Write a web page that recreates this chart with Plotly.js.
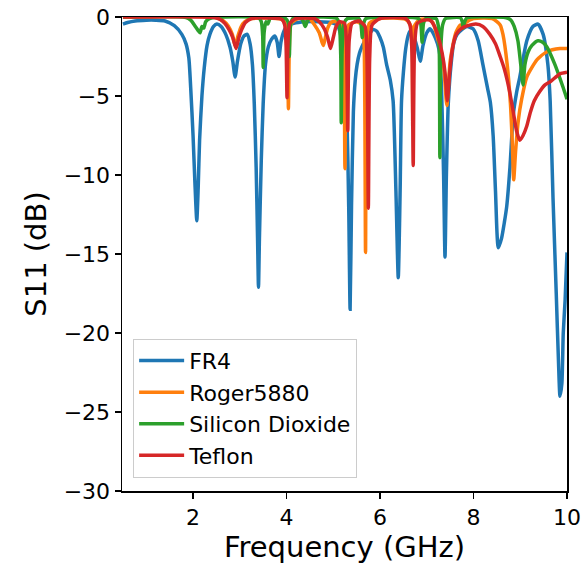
<!DOCTYPE html>
<html>
<head>
<meta charset="utf-8">
<script src="https://cdn.plot.ly/plotly-3.0.1.min.js"></script>
<style>html,body{margin:0;padding:0;background:#fff;}#chart{width:586px;height:573px;}</style>
</head>
<body>
<div id="chart"></div>
<script>
// FR4
const fr4_freq = [0.5,0.6,0.76,1.0,1.2,1.4,1.6,1.76,1.85,1.91,1.95,2.0,2.04,2.08,2.11,2.14,2.19,2.24,2.30,2.36,2.44,2.51,2.60,2.70,2.79,2.85,2.90,2.95,3.02,3.09,3.16,3.22,3.27,3.31,3.35,3.38,3.40,3.42,3.46,3.50,3.55,3.61,3.68,3.75,3.80,3.84,3.88,3.93,4.0,4.15,4.4,4.7,4.95,5.08,5.14,5.20,5.25,5.29,5.33,5.36,5.39,5.43,5.47,5.51,5.56,5.61,5.68,5.75,5.85,5.93,6.00,6.07,6.14,6.22,6.28,6.34,6.39,6.43,6.46,6.50,6.55,6.60,6.64,6.72,6.80,6.86,6.92,7.00,7.07,7.15,7.23,7.28,7.32,7.36,7.39,7.42,7.46,7.52,7.58,7.65,7.75,7.86,7.99,8.10,8.20,8.30,8.36,8.42,8.47,8.53,8.60,8.66,8.71,8.78,8.85,8.92,8.99,9.07,9.14,9.27,9.38,9.49,9.59,9.64,9.70,9.77,9.82,9.85,9.89,9.92,9.96,10.0];
const fr4_s11 = [-0.45,-0.35,-0.25,-0.2,-0.2,-0.25,-0.55,-1.1,-1.7,-2.6,-4.5,-7.5,-10.5,-12.9,-10.8,-7.8,-5.0,-3.2,-1.8,-1.1,-0.6,-0.45,-0.6,-1.1,-1.9,-2.8,-3.8,-2.8,-1.7,-1.2,-1.1,-1.7,-3.0,-5.5,-9.5,-14,-17.1,-14,-9,-5.5,-3.0,-1.9,-1.4,-1.2,-1.6,-2.5,-1.6,-1.0,-0.6,-0.4,-0.3,-0.3,-0.35,-0.5,-0.9,-1.9,-3.5,-6.0,-12,-18.5,-12,-6.0,-4.0,-3.0,-2.3,-1.9,-1.5,-1.2,-0.8,-0.9,-1.3,-1.9,-3.0,-4.0,-5.3,-11,-16.5,-11,-5.3,-3.5,-2.0,-1.2,-0.9,-1.2,-2.0,-2.8,-1.8,-1.0,-0.75,-1.1,-1.7,-2.4,-5.0,-10,-15.2,-10,-5.5,-3.0,-1.6,-1.1,-0.8,-0.6,-0.75,-1.5,-3.0,-4.5,-5.4,-7.5,-11,-14.6,-14.0,-13.0,-12.0,-9.5,-6.2,-4.8,-3.8,-2.5,-1.5,-0.6,-0.45,-1.1,-3.0,-5.3,-11.4,-17.5,-22,-24.0,-23.2,-20,-17.9,-14.9];

// Roger5880
const roger_freq = [0.5,2.5,2.65,2.75,2.84,2.90,2.96,3.03,3.11,3.25,3.9,3.98,4.02,4.04,4.06,4.10,4.25,4.50,4.60,4.70,4.76,4.79,4.83,4.88,4.95,5.05,5.18,5.22,5.25,5.28,5.33,5.5,5.62,5.66,5.69,5.72,5.77,6.0,6.55,6.66,6.70,6.73,6.85,7.05,7.13,7.22,7.35,7.43,7.50,7.62,7.72,7.78,7.84,8.0,8.4,8.57,8.63,8.72,8.79,8.83,8.86,8.90,8.96,9.03,9.14,9.36,9.57,9.85,10.0];
const roger_s11 = [-0.02,-0.03,-0.25,-0.55,-1.1,-1.8,-1.2,-0.6,-0.3,-0.1,-0.15,-0.5,-2.0,-5.8,-2.0,-0.4,-0.1,-0.15,-0.5,-1.0,-1.6,-1.8,-1.3,-0.7,-0.35,-0.3,-0.5,-1.5,-9.6,-1.5,-0.5,-0.3,-0.5,-1.8,-14.9,-1.8,-0.4,-0.1,-0.15,-0.6,-7,-0.6,-0.15,-0.15,-0.35,-1.2,-2.8,-5.6,-2.8,-1.0,-0.5,-0.7,-0.35,-0.1,-0.1,-0.5,-1.1,-3.0,-5.5,-8.0,-10.3,-8.5,-6.5,-5.2,-3.8,-2.7,-2.2,-2.0,-2.0];

// Silicon Dioxide
const sio2_freq = [0.5,1.85,1.95,2.05,2.12,2.15,2.19,2.23,2.27,2.35,2.5,3.40,3.46,3.49,3.50,3.52,3.56,3.60,3.65,3.98,4.04,4.06,4.09,4.15,4.30,4.36,4.40,4.44,4.5,5.08,5.13,5.16,5.17,5.19,5.23,5.30,5.55,5.59,5.62,5.65,5.70,6.82,6.87,6.90,6.93,6.98,7.20,7.25,7.27,7.28,7.30,7.34,7.40,7.72,7.76,7.78,7.81,7.86,8.70,8.80,8.87,8.95,9.01,9.06,9.10,9.17,9.25,9.38,9.48,9.57,9.74,9.91,10.0];
const sio2_s11 = [0,-0.03,-0.2,-0.6,-0.9,-1.0,-0.6,-0.7,-0.3,-0.1,-0.02,-0.05,-0.3,-1.2,-3.2,-1.0,-0.3,-0.45,-0.1,-0.1,-0.4,-2.5,-0.4,-0.05,-0.05,-0.3,-0.6,-0.3,-0.05,-0.1,-0.5,-2.5,-6.7,-2.0,-0.4,-0.1,-0.1,-0.4,-1.3,-0.4,-0.1,-0.1,-0.4,-1.6,-0.4,-0.1,-0.1,-0.6,-2.5,-8.9,-2.0,-0.5,-0.1,-0.05,-0.3,-0.7,-0.3,-0.05,-0.05,-0.2,-0.6,-1.5,-3.0,-4.3,-3.0,-2.2,-1.8,-1.5,-1.6,-1.9,-3.0,-4.4,-5.2];

// Teflon
const teflon_freq = [0.5,2.45,2.58,2.68,2.77,2.85,2.92,2.98,3.04,3.12,3.25,3.5,3.90,3.96,3.99,4.01,4.03,4.07,4.2,4.60,4.70,4.80,4.88,4.94,5.00,5.06,5.14,5.24,5.28,5.31,5.34,5.40,5.55,5.68,5.72,5.75,5.78,5.83,6.0,6.55,6.64,6.68,6.71,6.74,6.80,6.95,7.07,7.15,7.23,7.33,7.39,7.44,7.49,7.55,7.63,7.75,7.88,8.05,8.2,8.35,8.47,8.57,8.65,8.72,8.79,8.85,8.92,8.99,9.06,9.14,9.21,9.30,9.42,9.53,9.64,9.85,10.0];
const teflon_s11 = [0,-0.03,-0.15,-0.4,-0.8,-1.3,-2.0,-1.3,-0.8,-0.35,-0.1,-0.05,-0.15,-0.5,-1.8,-5.1,-1.8,-0.4,-0.1,-0.1,-0.3,-0.7,-1.3,-2.0,-1.3,-0.6,-0.3,-0.4,-1.5,-7.2,-1.5,-0.4,-0.25,-0.6,-2.5,-12.1,-2.5,-0.5,-0.1,-0.1,-0.5,-2.0,-9.4,-1.8,-0.4,-0.2,-0.2,-0.5,-1.1,-2.3,-3.5,-5.3,-3.5,-2.0,-1.1,-0.7,-0.55,-0.45,-0.6,-1.1,-1.7,-2.5,-3.2,-4.0,-5.0,-6.0,-7.2,-7.8,-7.5,-6.9,-6.1,-5.3,-4.7,-4.3,-4.1,-3.6,-3.5];

const seriesNames = ['FR4','Roger5880','Silicon Dioxide','Teflon'];
const seriesColors = ['#1f77b4','#ff7f0e','#2ca02c','#d62728'];
const xs = [fr4_freq, roger_freq, sio2_freq, teflon_freq];
const ys = [fr4_s11, roger_s11, sio2_s11, teflon_s11];
const xTicks = [2,4,6,8,10];
const yTicks = [0,-5,-10,-15,-20,-25,-30];

const traces = seriesNames.map((n,i)=>({
  x: xs[i], y: ys[i], name: n, type:'scatter', mode:'lines',
  line:{color:seriesColors[i], width:3.5, shape:'spline', smoothing:0.6}
}));

const FONT = 'DejaVu Sans, sans-serif';
const layout = {
  width:586, height:573,
  margin:{l:122, r:19, t:17, b:82},
  paper_bgcolor:'#fff', plot_bgcolor:'#fff',
  font:{family:FONT, size:22, color:'#000'},
  showlegend:true,
  legend:{x:0.025, y:0.028, xanchor:'left', yanchor:'bottom',
    bgcolor:'rgba(255,255,255,0.85)', bordercolor:'#cccccc', borderwidth:1,
    itemwidth:45,
    font:{family:FONT, size:22, color:'#000'}},
  xaxis:{range:[0.48,10], tickvals:xTicks, ticktext:xTicks.map(String),
    showline:true, linecolor:'#000', linewidth:1.5, mirror:true,
    ticks:'outside', ticklen:6, tickwidth:1.5, tickcolor:'#000',
    showgrid:false, zeroline:false,
    tickfont:{family:FONT, size:22, color:'#000'},
    title:{text:'Frequency (GHz)', font:{family:FONT, size:29, color:'#000'}, standoff:8}},
  yaxis:{range:[-30,0], tickvals:yTicks, ticktext:yTicks.map(v=>v<0?'\u2212'+Math.abs(v):String(v)),
    showline:true, linecolor:'#000', linewidth:1.5, mirror:true,
    ticks:'outside', ticklen:6, tickwidth:1.5, tickcolor:'#000',
    showgrid:false, zeroline:false,
    tickfont:{family:FONT, size:22, color:'#000'},
    title:{text:'S11 (dB)', font:{family:FONT, size:29, color:'#000'}, standoff:8}}
};
Plotly.newPlot('chart', traces, layout, {displayModeBar:false, staticPlot:true});
</script>
</body>
</html>
